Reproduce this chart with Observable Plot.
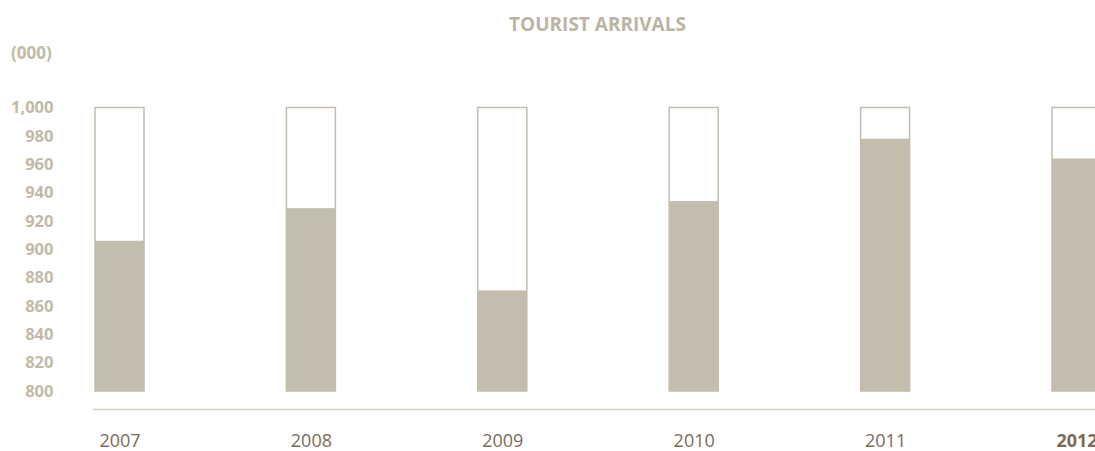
<!DOCTYPE html>
<html>
<head>
<meta charset="utf-8">
<script src="https://cdn.jsdelivr.net/npm/d3@7"></script>
<script src="https://cdn.jsdelivr.net/npm/@observablehq/plot@0.6"></script>
<style>
  html, body { margin: 0; padding: 0; background: #fff; overflow: hidden; width: 1095px; height: 451px; }
  #wrap { position: relative; width: 1095px; height: 451px; overflow: hidden; font-family: "Open Sans", sans-serif; }
  #title { position: absolute; left: 0; width: 1195px; top: 11px; text-align: center; font-size: 19px; font-weight: 700; color: #bcb4a2; }
  #unit { position: absolute; left: 11px; top: 41px; font-size: 17px; font-weight: 700; color: #c2baa8; }
  #chart { position: absolute; left: 0; top: 0; }
  #chart svg { max-width: none !important; }
</style>
</head>
<body>
<div id="wrap">
  <div id="chart"></div>
  <div id="title">TOURIST ARRIVALS</div>
  <div id="unit">(000)</div>
</div>
<script>
const years = [2007, 2008, 2009, 2010, 2011, 2012];
const arrivals = [906, 929, 871, 934, 978, 964];
const yTicks = [800, 820, 840, 860, 880, 900, 920, 940, 960, 980, 1000];
const yMin = 800;
const yMax = 1000;
const highlightYear = 2012;

const data = years.map((year, i) => ({year, value: arrivals[i]}));

const tan = "#c4bdad";
const yearColor = "#7c6a58";

const chart = Plot.plot({
  width: 1101,
  height: 451,
  marginLeft: 93,
  marginRight: 0,
  marginTop: 107.5,
  marginBottom: 60,
  style: {background: "transparent", fontFamily: "'Open Sans', sans-serif", maxWidth: "none"},
  x: {type: "band", domain: years, range: [95, 1101], round: false, paddingInner: 0.744, paddingOuter: 0, align: 0},
  y: {domain: [yMin, yMax]},
  marks: [
    Plot.barY(data, {x: "year", y1: yMin, y2: yMax, fill: "white", stroke: tan, strokeWidth: 1.5, inset: 0}),
    Plot.barY(data, {x: "year", y1: yMin, y2: "value", fill: tan, inset: 0}),
    Plot.frame({anchor: "bottom", stroke: "#d6d0c4", strokeWidth: 1.5, dy: 18}),
    Plot.axisY({ticks: yTicks, tickSize: 0, tickPadding: 40, label: null, tickFormat: d3.format(","), fontSize: 16.5, fontWeight: 700, fill: "#c2baa8"}),
    Plot.axisX({ticks: [], tickSize: 0, label: null}),
    Plot.text(years.filter(d => d !== highlightYear), {
      x: d => d, frameAnchor: "bottom", dy: 55,
      text: d => String(d), fontSize: 18, fill: yearColor, fontWeight: 400
    }),
    Plot.text(years.filter(d => d === highlightYear), {
      x: d => d, frameAnchor: "bottom", dy: 55,
      text: d => String(d), fontSize: 18, fill: yearColor, fontWeight: 700
    })
  ]
});
document.getElementById("chart").appendChild(chart);
</script>
</body>
</html>
